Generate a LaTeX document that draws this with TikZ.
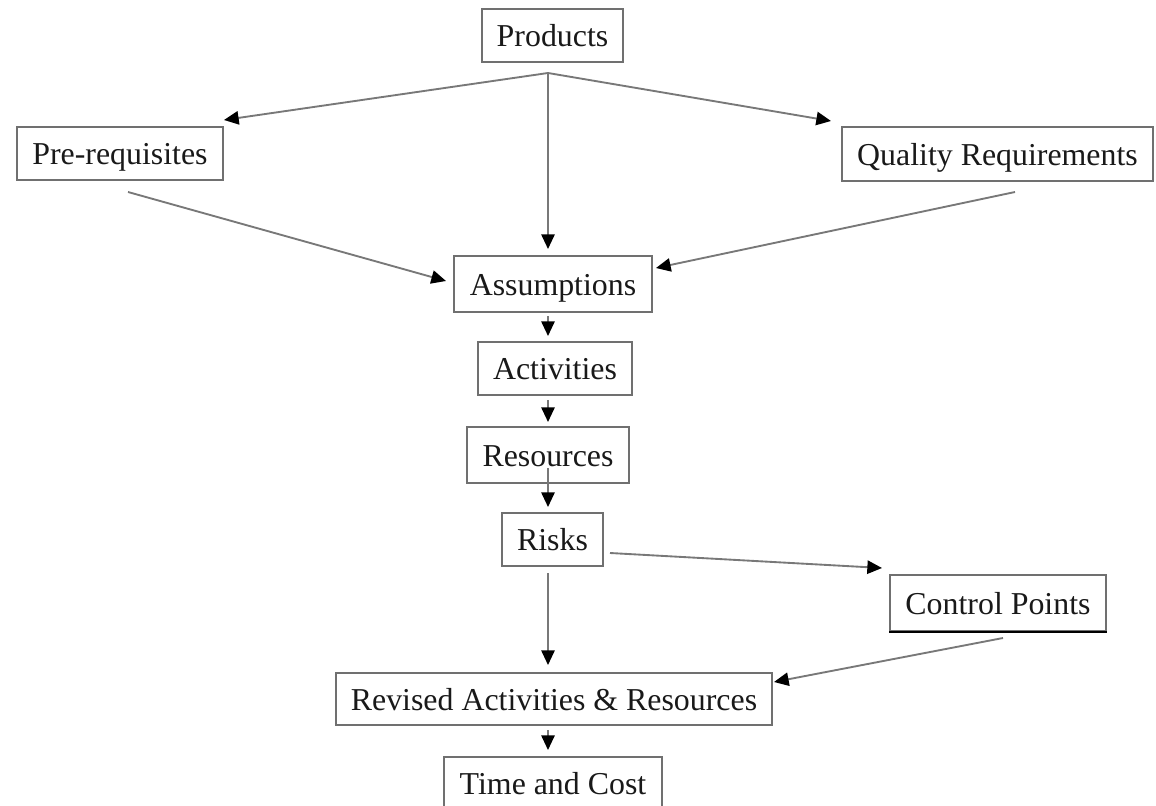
\documentclass[tikz,border=0pt]{standalone}
\usepackage{fontspec}
\setmainfont{Liberation Serif}
\usetikzlibrary{arrows.meta,calc}
\definecolor{boxline}{RGB}{112,112,112}
\definecolor{linkline}{RGB}{120,120,120}
\begin{document}
\begin{tikzpicture}[x=0.75pt,y=-0.75pt,
  stepbox/.style={draw=boxline,line width=1.5pt,fill=white,inner sep=0pt,
    font=\fontsize{23.9}{28}\selectfont,text=black!90,
    text height=22.5pt,text depth=5.5pt},
  link/.style={draw=linkline,line width=1.4pt,
    -{Triangle[length=11pt,width=10pt,color=black]}}]
\useasboundingbox (0,0) rectangle (1156,806);

% boxes (sizes in pt)
\node[stepbox,minimum width=105.75pt,minimum height=39.75pt] (prod) at (552.5,35.5) {Products};
\node[stepbox,minimum width=154.5pt,minimum height=39.75pt] (pre)  at (120,153.5) {Pre-requisites};
\node[stepbox,minimum width=233.25pt,minimum height=40.5pt] (qual) at (997.5,154) {Quality Requirements};
\node[stepbox,minimum width=148.5pt,minimum height=42pt] (assu) at (553,284) {Assumptions};
\node[stepbox,minimum width=115.5pt,minimum height=39.75pt] (acti) at (555,368.5) {Activities};
\node[stepbox,minimum width=121.5pt,minimum height=42pt] (reso) at (548,455) {Resources};
\node[stepbox,minimum width=75.75pt,minimum height=39.75pt] (risk) at (552.5,539.5) {Risks};
\node[stepbox,minimum width=162pt,minimum height=42pt] (ctrl) at (998,603) {Control Points};
\node[stepbox,minimum width=327pt,minimum height=39pt] (revi) at (554,699) {Revised Activities \& Resources};
\node[stepbox,minimum width=163.5pt,minimum height=39.75pt] (time) at (553,783.5) {Time and Cost};

% thicker lower edge of the control points box
\draw[line width=2.2pt,black] (ctrl.south west) -- (ctrl.south east);

% branching point under the products box
\coordinate (hub) at ($(prod.south)+(-4.5,10)$);

% connectors
\draw[link] (hub) -- ($(pre.north east)+(0,-6)$);
\draw[link] (hub) -- ($(qual.north west)+(-10,-5)$);
\draw[link] (hub) -- ($(assu.north)+(-5,-6)$);
\draw[link] ($(pre.south)+(8,11)$) -- ($(assu.west)+(-7,-3)$);
\draw[link] ($(qual.south)+(17.5,10)$) -- ($(assu.east)+(3,-16)$);
\draw[link] ($(assu.south)+(-5,3)$) -- ($(acti.north)+(-7,-5)$);
\draw[link] ($(acti.south)+(-7,4)$) -- ($(reso.north)+(0,-4)$);
\draw[link] ($(reso.south)+(0,-16)$) -- ($(risk.north)+(-4.5,-5)$);
\draw[link] ($(risk.east)+(6,13.5)$) -- ($(ctrl.north west)+(-7,-6)$);
\draw[link] ($(risk.south)+(-4.5,6)$) -- ($(revi.north)+(-6,-7)$);
\draw[link] ($(ctrl.south)+(5,6)$) -- ($(revi.north east)+(1,10)$);
\draw[link] ($(revi.south)+(-6,4)$) -- ($(time.north)+(-5,-6)$);
\end{tikzpicture}
\end{document}
